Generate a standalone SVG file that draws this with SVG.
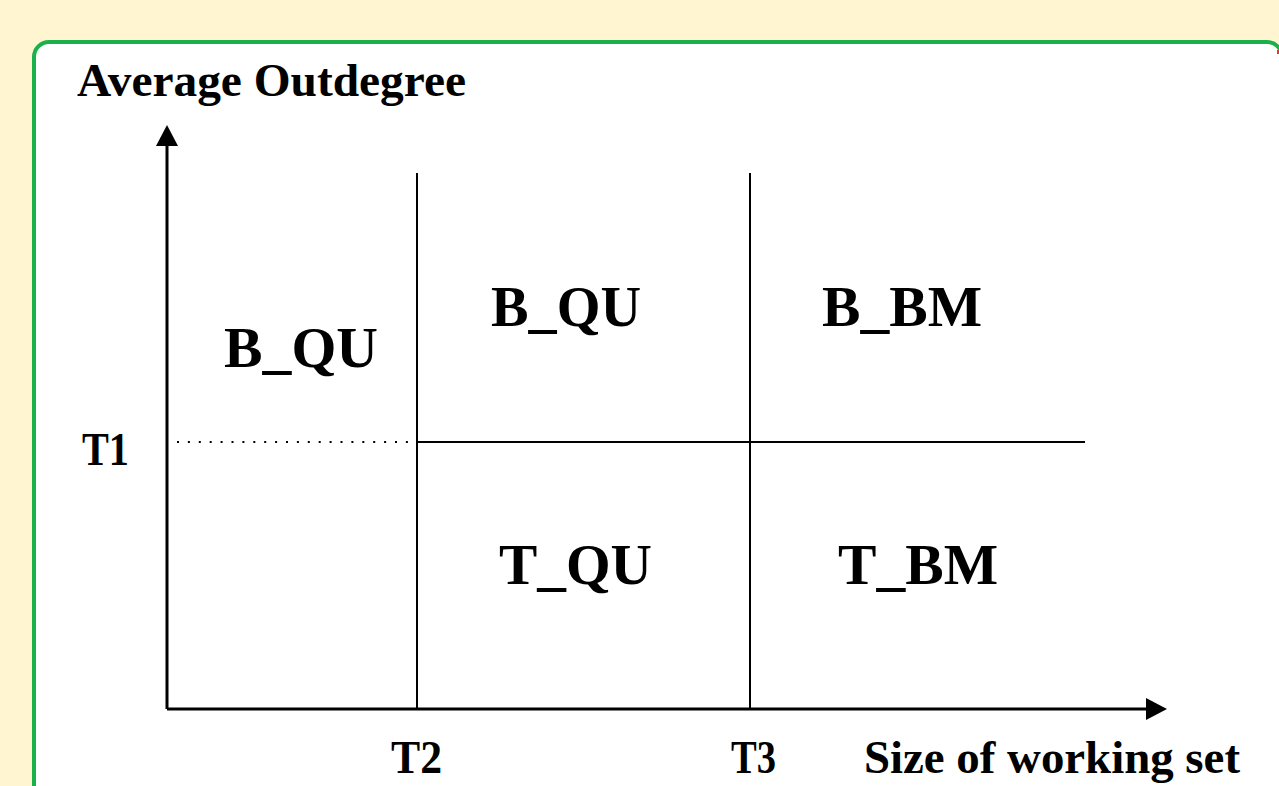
<svg xmlns="http://www.w3.org/2000/svg" width="1279" height="786" viewBox="0 0 1279 786">
  <defs>
    <marker id="arrow" markerUnits="userSpaceOnUse" markerWidth="22" markerHeight="22" refX="0" refY="11" orient="auto">
      <path d="M0,0 L21,11 L0,22 Z" fill="#000"/>
    </marker>
    <style>
      .lbl { font-family: "Liberation Serif", "Times New Roman", serif; font-weight: bold; fill: #000; }
      .small { font-size: 46px; }
      .big { font-size: 58px; }
      .div { stroke: #000; stroke-width: 2; fill: none; }
      .axis { stroke: #000; stroke-width: 3; fill: none; }
    </style>
  </defs>
  <rect x="0" y="0" width="1279" height="786" fill="#FFF5D1"/>
  <rect id="panel" x="34" y="42" width="1248" height="800" rx="15" ry="15" fill="#FFFFFF" stroke="#1AB04B" stroke-width="4"/>
  <rect x="1277" y="50" width="2" height="4" fill="#E8372C"/>

  <g id="connectors">
    <line class="axis" x1="167" y1="709" x2="167" y2="146" marker-end="url(#arrow)"/>
    <line class="axis" x1="167" y1="709" x2="1146" y2="709" marker-end="url(#arrow)"/>
    <line class="div" x1="417" y1="173" x2="417" y2="709"/>
    <line class="div" x1="750" y1="173" x2="750" y2="709"/>
    <line class="div" x1="417" y1="442" x2="1085" y2="442"/>
    <line x1="177" y1="442" x2="410" y2="442" stroke="#000" stroke-width="2" stroke-dasharray="2 8.9"/>
  </g>

  <g id="y-axis-label"><text class="lbl small" x="77" y="96" textLength="389" lengthAdjust="spacingAndGlyphs">Average Outdegree</text></g>
  <g id="x-axis-label"><text class="lbl small" x="864" y="773" textLength="376" lengthAdjust="spacingAndGlyphs">Size of working set</text></g>
  <g id="t1"><text class="lbl small" x="82" y="465" textLength="47" lengthAdjust="spacingAndGlyphs">T1</text></g>
  <g id="t2"><text class="lbl small" x="391" y="773" textLength="51" lengthAdjust="spacingAndGlyphs">T2</text></g>
  <g id="t3"><text class="lbl small" x="731" y="773" textLength="45" lengthAdjust="spacingAndGlyphs">T3</text></g>

  <g id="region-bqu-left"><text class="lbl big" x="224" y="367" textLength="154" lengthAdjust="spacingAndGlyphs">B_QU</text></g>
  <g id="region-bqu"><text class="lbl big" x="491" y="326" textLength="150" lengthAdjust="spacingAndGlyphs">B_QU</text></g>
  <g id="region-bbm"><text class="lbl big" x="822" y="326" textLength="160" lengthAdjust="spacingAndGlyphs">B_BM</text></g>
  <g id="region-tqu"><text class="lbl big" x="499" y="584" textLength="153" lengthAdjust="spacingAndGlyphs">T_QU</text></g>
  <g id="region-tbm"><text class="lbl big" x="838" y="584" textLength="160" lengthAdjust="spacingAndGlyphs">T_BM</text></g>
</svg>
